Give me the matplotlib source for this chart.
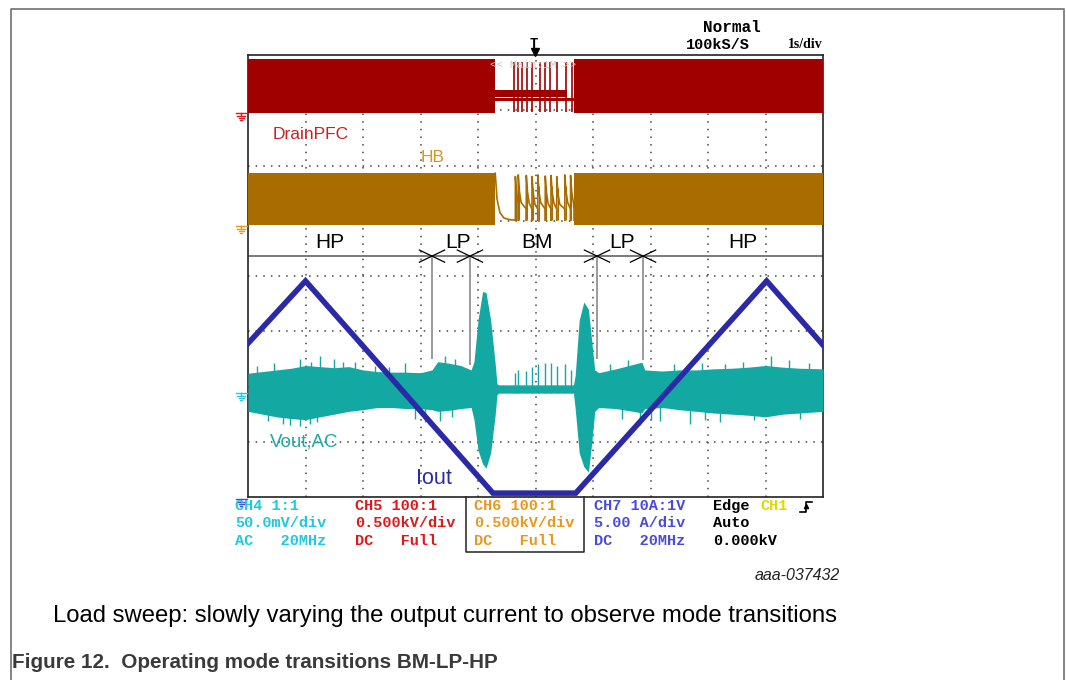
import matplotlib
matplotlib.use('Agg')
import matplotlib.pyplot as plt

# --- scope traces (time in s, 1 s/div; vertical in divisions, 0 = bottom of screen) ---
# Iout ramp (CH7)
iout_t = [0.0, 1.0, 4.26, 5.70, 9.02, 10.0]
iout_div = [2.78, 3.91, 0.07, 0.07, 3.91, 2.75]

# DrainPFC (CH5) switching envelope
pfc_on = [(0.0, 4.30), (5.67, 10.0)]
pfc_top, pfc_bot = 7.92, 6.95
pfc_bm_bars = [(7.24, 7.37, 4.30, 5.54), (7.17, 7.22, 4.30, 5.67)]
pfc_spike_t = [4.63, 4.70, 4.77, 4.85, 4.94, 5.08, 5.17, 5.25, 5.37, 5.53, 5.63]

# HB (CH6) switching envelope
hb_on = [(0.0, 4.30), (5.67, 10.0)]
hb_top, hb_bot = 5.86, 4.92
hb_spike_t = [4.65, 4.70, 4.84, 4.94, 5.04, 5.17, 5.27, 5.37, 5.51, 5.61]
hb_spike_top = [5.80, 5.83, 5.82, 5.80, 5.83, 5.81, 5.82, 5.80, 5.83, 5.82]
hb_floor = 5.01

# Vout,AC (CH4) envelope
vout_t = [0.0, 0.25, 0.5, 0.75, 1.0, 1.25, 1.5, 1.75, 2.0, 2.25, 2.5, 2.75, 3.0, 3.2,
          3.3, 3.5, 3.7, 3.88, 3.93, 4.0, 4.08, 4.14, 4.22, 4.30, 4.33, 4.36, 5.66,
          5.69, 5.76, 5.84, 5.92, 5.98, 6.03, 6.1, 6.4, 6.7, 6.85, 6.9,
          7.2, 7.5, 7.8, 8.1, 8.4, 8.7, 9.0, 9.3, 9.6, 10.0]
vout_hi = [2.24, 2.27, 2.30, 2.33, 2.38, 2.36, 2.34, 2.36, 2.30, 2.27, 2.26, 2.26, 2.25, 2.30,
           2.45, 2.42, 2.38, 2.30, 2.45, 3.20, 3.72, 3.70, 3.20, 2.40, 2.05, 2.03, 2.03,
           2.20, 3.20, 3.53, 3.40, 2.80, 2.30, 2.25, 2.32, 2.40, 2.44, 2.30,
           2.28, 2.30, 2.30, 2.32, 2.33, 2.35, 2.38, 2.35, 2.33, 2.32]
vout_lo = [1.55, 1.50, 1.45, 1.42, 1.40, 1.45, 1.50, 1.55, 1.58, 1.62, 1.62, 1.60, 1.60, 1.58,
           1.55, 1.57, 1.60, 1.62, 1.40, 0.85, 0.60, 0.52, 0.80, 1.50, 1.85, 1.88, 1.88,
           1.60, 0.80, 0.55, 0.45, 1.00, 1.55, 1.62, 1.60, 1.55, 1.52, 1.60,
           1.62, 1.58, 1.55, 1.52, 1.50, 1.48, 1.45, 1.50, 1.52, 1.55]
vout_center = 1.88
vout_spike_t = [0.15, 0.45, 0.9, 1.1, 1.25, 1.5, 1.65, 1.86, 2.2, 2.45, 2.73, 3.43, 3.6,
                6.3, 6.6, 7.4, 7.9, 8.3, 8.6, 9.1, 9.4, 9.75,
                0.35, 0.6, 0.73, 0.9, 1.08, 1.2, 2.9, 3.08, 3.34, 3.55,
                6.5, 6.82, 7.0, 7.17, 7.69, 7.95, 8.2, 8.8, 9.6,
                4.65, 4.70, 4.84, 4.94, 5.04, 5.17, 5.27, 5.37, 5.51, 5.61]
vout_spike_v = [2.38, 2.42, 2.50, 2.45, 2.55, 2.50, 2.44, 2.45, 2.38, 2.36, 2.42, 2.55, 2.50,
                2.40, 2.48, 2.40, 2.42, 2.40, 2.45, 2.55, 2.48, 2.42,
                1.38, 1.33, 1.30, 1.28, 1.32, 1.36, 1.42, 1.35, 1.38, 1.45,
                1.42, 1.30, 1.40, 1.38, 1.32, 1.40, 1.35, 1.40, 1.42,
                2.25, 2.30, 2.28, 2.35, 2.40, 2.43, 2.42, 2.38, 2.40, 2.30]

# mode strip
mode_labels = ['HP', 'LP', 'BM', 'LP', 'HP']
mode_label_t = [1.43, 3.65, 5.03, 6.50, 8.60]
mode_edges_t = [3.20, 3.86, 6.07, 6.87]
mode_edge_end = [2.52, 2.40, 2.52, 2.50]
mode_line = 4.36

# info rows under the screen
info_cols = [
    ('CH4 1:1', '50.0mV/div', 'AC   20MHz', '#22c8dc'),
    ('CH5 100:1', '0.500kV/div', 'DC   Full', '#e01818'),
    ('CH6 100:1', '0.500kV/div', 'DC   Full', '#e8981e'),
    ('CH7 10A:1V', '5.00 A/div', 'DC   20MHz', '#4a4ae0'),
]
info_x = [235, 355, 474, 594]

RED = '#a00000'
ORANGE = '#a86c00'
TEAL = '#14a8a2'
BLUE = '#2a2aa8'

fig = plt.figure(figsize=(10.66, 6.8), dpi=100)
W, H = 1066, 680
L, T, R, B = 248, 55, 823, 497
ax = fig.add_axes([L / W, 1 - B / H, (R - L) / W, (B - T) / H])
ax.set_xlim(0, 10)
ax.set_ylim(0, 8)
ax.set_xticks([])
ax.set_yticks([])
for s in ax.spines.values():
    s.set_linewidth(1.2)
    s.set_color('#222222')

# grid
for g in range(1, 10):
    ax.axvline(g, color='#444444', lw=1.1, ls=(0, (1, 4)), zorder=1)
for g in range(1, 8):
    ax.axhline(g, color='#444444', lw=1.1, ls=(0, (1, 4)), zorder=1)
ax.axhline(mode_line, color='#707070', lw=1.3, zorder=2)

# DrainPFC
for a, b in pfc_on:
    ax.fill_between([a, b], pfc_bot, pfc_top, color=RED, lw=0, zorder=3)
for lo, hi, a, b in pfc_bm_bars:
    ax.fill_between([a, b], lo, hi, color=RED, lw=0, zorder=3)
ax.vlines(pfc_spike_t, pfc_bot + 0.02, pfc_top - 0.05, color=RED, lw=1.2, zorder=3)

# HB
for a, b in hb_on:
    ax.fill_between([a, b], hb_bot, hb_top, color=ORANGE, lw=0, zorder=3)
ax.plot([4.30, 4.33, 4.38, 4.45, 4.55, hb_spike_t[0]],
        [hb_top, 5.40, 5.15, 5.05, 5.02, hb_floor], color=ORANGE, lw=1.2, zorder=3)
for i, (t, top) in enumerate(zip(hb_spike_t, hb_spike_top)):
    nxt = hb_spike_t[i + 1] if i + 1 < len(hb_spike_t) else 5.67
    ax.plot([t, t, t + 0.02, t + 0.05, nxt, nxt],
            [hb_floor, top, top - 0.3, top - 0.5, hb_floor + 0.2, hb_floor],
            color=ORANGE, lw=1.2, zorder=3)
    ax.vlines(t + 0.015, hb_floor, top - 0.2, color=ORANGE, lw=0.8, zorder=3)

# Vout,AC
ax.fill_between(vout_t, vout_lo, vout_hi, color=TEAL, lw=0, zorder=3)
ax.vlines(vout_spike_t, vout_center, vout_spike_v, color=TEAL, lw=1.0, zorder=3)

# Iout
ax.plot(iout_t, iout_div, color=BLUE, lw=4, solid_joinstyle='miter', zorder=5)

# mode annotations
for lab, t in zip(mode_labels, mode_label_t):
    ax.text(t, 4.60, lab, ha='center', va='center', fontsize=15,
            family='Liberation Sans', color='black', zorder=6)
for t, e in zip(mode_edges_t, mode_edge_end):
    ax.plot([t - 0.22, t + 0.22], [mode_line + 0.11, mode_line - 0.11], color='black', lw=0.9, zorder=6)
    ax.plot([t - 0.22, t + 0.22], [mode_line - 0.11, mode_line + 0.11], color='black', lw=0.9, zorder=6)
    ax.plot([t, t], [mode_line - 0.04, e], color='#9a9a9a', lw=1.4, zorder=6)

ax.text(0.42, 6.57, 'DrainPFC', fontsize=12.5, family='Liberation Sans', color='#cc2020',
        va='center', zorder=6)
ax.text(3.00, 6.14, 'HB', fontsize=12.5, family='Liberation Sans', color='#d8961e',
        va='center', zorder=6)
ax.text(0.38, 0.99, 'Vout,AC', fontsize=13.5, family='Liberation Sans', color='#20a8a8',
        va='center', zorder=6)
ax.text(2.92, 0.33, 'Iout', fontsize=15.5, family='Liberation Sans', color=BLUE,
        va='center', zorder=6)
ax.text(4.95, 7.82, '<< Main:1M >>', fontsize=8, family='Liberation Mono', color='#c8c8c8',
        ha='center', va='center', zorder=6)

# page overlay in pixel coordinates
pg = fig.add_axes([0, 0, 1, 1])
pg.set_xlim(0, W)
pg.set_ylim(H, 0)
pg.axis('off')
pg.patch.set_visible(False)

pg.plot([10.5, 10.5, 1063.5, 1063.5], [680, 8.5, 8.5, 680], color='#707070', lw=1.2)

# ground markers
for y, c in [(113, '#e01818'), (226, '#e8981e'), (393, '#22c8dc'), (499, '#4a4ae0')]:
    pg.plot([236, 247], [y, y], color=c, lw=1)
    pg.plot([241, 241], [y, y + 3], color=c, lw=1)
    pg.plot([237, 245], [y + 3, y + 3], color=c, lw=1)
    pg.plot([238.5, 243.5], [y + 5, y + 5], color=c, lw=1)
    pg.plot([240, 242], [y + 7, y + 7], color=c, lw=1)

# header
mono = 'Liberation Mono'
pg.text(703, 27, 'Normal', fontsize=11.5, family=mono, weight='bold', va='center')
pg.text(686, 45, '100kS/S', fontsize=11, family=mono, weight='bold', va='center')
pg.text(788, 45, '1s/div', fontsize=10, family='Liberation Serif', weight='bold', va='center')
pg.text(534, 44, 'T', fontsize=10, family=mono, weight='bold', ha='center', va='center')
pg.plot([535], [52], marker='v', color='black', markersize=6)

# info rows
for x, (r1, r2, r3, c) in zip(info_x, info_cols):
    for y, s in zip([506, 523, 541], [r1, r2, r3]):
        pg.text(x, y, s, fontsize=11, family=mono, weight='bold', color=c, va='center')
pg.plot([466, 466, 584, 584], [497, 552, 552, 497], color='#222222', lw=1.1)
pg.text(713, 506, 'Edge', fontsize=11, family=mono, weight='bold', color='black', va='center')
pg.text(760, 506, 'CH1', fontsize=11, family=mono, weight='bold', color='#e0d800', va='center')
pg.plot([800, 806, 806, 812], [512, 512, 502, 502], color='black', lw=1.2)
pg.plot([806], [506], marker='^', color='black', markersize=3)
pg.text(713, 523, 'Auto', fontsize=11, family=mono, weight='bold', color='black', va='center')
pg.text(713, 541, '0.000kV', fontsize=11, family=mono, weight='bold', color='black', va='center')

# captions
pg.text(840, 575, 'aaa-037432', fontsize=11.5, family='Liberation Sans', style='italic',
        ha='right', va='center', color='#222222')
pg.text(53, 616, 'Load sweep: slowly varying the output current to observe mode transitions',
        fontsize=17.2, family='Liberation Sans', va='center', color='black')
pg.text(12, 662, 'Figure 12.  Operating mode transitions BM-LP-HP', fontsize=14.9,
        family='Liberation Sans', weight='bold', va='center', color='#3a3a3a')

fig.savefig('out.png', dpi=100)
